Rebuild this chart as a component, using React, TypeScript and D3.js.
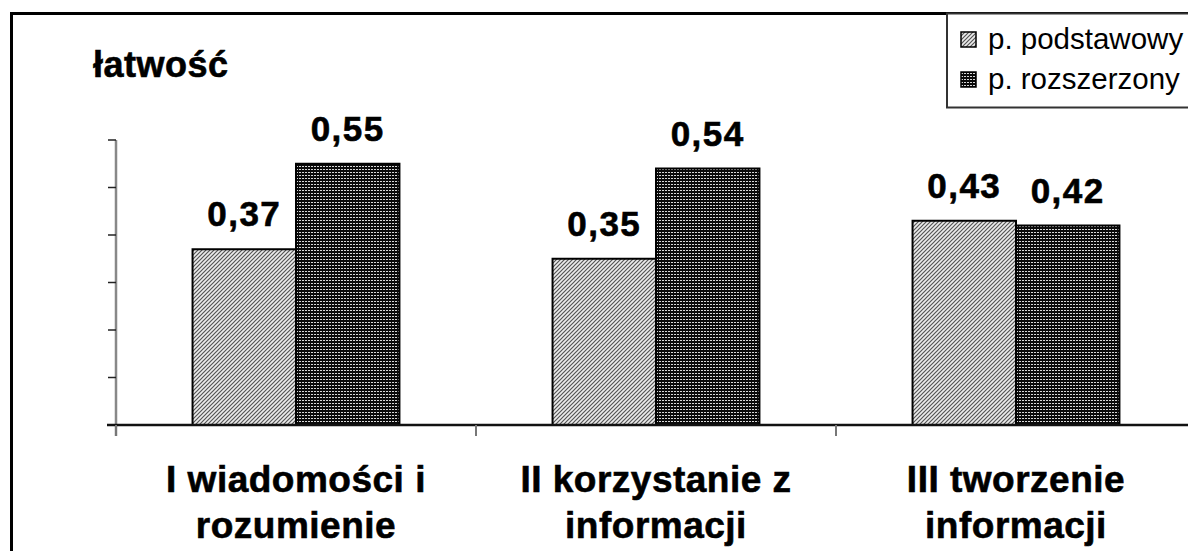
import * as d3 from "d3";

const categories = ["I wiadomości i|rozumienie", "II korzystanie z|informacji", "III tworzenie|informacji"];
const seriesNames = ["p. podstawowy", "p. rozszerzony"];
const podstawowy = [0.37, 0.35, 0.43];
const rozszerzony = [0.55, 0.54, 0.42];
const yTicks = [0, 0.1, 0.2, 0.3, 0.4, 0.5, 0.6];

const W = 1188;
const H = 551;
const FONT = "Arial, 'Liberation Sans', sans-serif";

export default function App() {
  const x = d3.scaleBand<string>().domain(categories).range([116, 1196]).padding(0);
  const inner = d3
    .scaleBand<string>()
    .domain(seriesNames)
    .range([0, x.bandwidth()])
    .paddingInner(0)
    .paddingOuter(0.74);
  const y = d3.scaleLinear().domain([0, 0.6]).range([425, 140]);
  const values = [podstawowy, rozszerzony];
  const fills = ["url(#hatch)", "url(#dots)"];
  const fmt = (v: number) => v.toFixed(2).replace(".", ",");
  const bold = { fill: "#000", stroke: "#000", strokeWidth: 0.6 };

  return (
    <svg
      width={W}
      height={H}
      style={{ position: "absolute", left: 0, top: 0, background: "#fff" }}
    >
      <defs>
        <pattern id="hatch" width="4" height="4" patternUnits="userSpaceOnUse">
          <rect width="4" height="4" fill="#ececec" />
          <path d="M-1,1 l2,-2 M0,4 l4,-4 M3,5 l2,-2" stroke="#555" strokeWidth="1.2" />
        </pattern>
        <pattern id="dots" width="3" height="3" patternUnits="userSpaceOnUse">
          <rect width="3" height="3" fill="#0a0a0a" />
          <rect x="0" y="1" width="2" height="1" fill="#d8d8d8" />
        </pattern>
      </defs>

      {/* outer frame */}
      <rect x={11.5} y={13.5} width={W + 20} height={H + 20} fill="none" stroke="#000" strokeWidth={3} />

      {/* legend */}
      <rect x={947} y={13.5} width={260} height={94} fill="#fff" stroke="#333" strokeWidth={2} />
      {seriesNames.map((s, i) => (
        <g key={s} transform={`translate(961,${32 + i * 40})`}>
          <rect width={15} height={15} fill={fills[i]} stroke="#000" strokeWidth={1.5} />
          <text x={27} y={17} style={{ font: `400 29.5px ${FONT}`, fill: "#000" }}>
            {s}
          </text>
        </g>
      ))}

      {/* y title */}
      <text x={93} y={77} style={{ font: `700 36px ${FONT}`, ...bold, letterSpacing: "0.5px" }}>
        łatwość
      </text>

      {/* y axis */}
      <line x1={116} x2={116} y1={y(0.6)} y2={436} stroke="#888" strokeWidth={2.5} />
      {yTicks.map((t) => (
        <line key={t} x1={108} x2={116} y1={y(t)} y2={y(t)} stroke="#222" strokeWidth={1.5} />
      ))}

      {/* bars */}
      {categories.map((c, ci) => (
        <g key={c} transform={`translate(${x(c)},0)`}>
          {seriesNames.map((s, si) => {
            const v = values[si][ci];
            const bx = inner(s)!;
            return (
              <g key={s}>
                <rect
                  x={bx}
                  y={y(v)}
                  width={inner.bandwidth()}
                  height={y(0) - y(v)}
                  fill={fills[si]}
                  stroke="#000"
                  strokeWidth={2}
                />
                <text
                  x={bx + inner.bandwidth() / 2}
                  y={y(v) - 23}
                  textAnchor="middle"
                  style={{ font: `700 35px ${FONT}`, ...bold, letterSpacing: "1.5px" }}
                >
                  {fmt(v)}
                </text>
              </g>
            );
          })}
        </g>
      ))}

      {/* x axis */}
      <line x1={107} x2={W} y1={y(0)} y2={y(0)} stroke="#111" strokeWidth={2.5} />
      {categories.map((c) => (
        <line key={c} x1={x(c)!} x2={x(c)!} y1={y(0)} y2={436} stroke="#777" strokeWidth={2} />
      ))}
      {categories.map((c) => {
        const cx = x(c)! + x.bandwidth() / 2;
        return (
          <text
            key={c}
            textAnchor="middle"
            style={{ font: `700 37px ${FONT}`, ...bold, letterSpacing: "0.5px" }}
          >
            {c.split("|").map((line, li) => (
              <tspan key={li} x={cx} y={492 + li * 46}>
                {line}
              </tspan>
            ))}
          </text>
        );
      })}
    </svg>
  );
}
